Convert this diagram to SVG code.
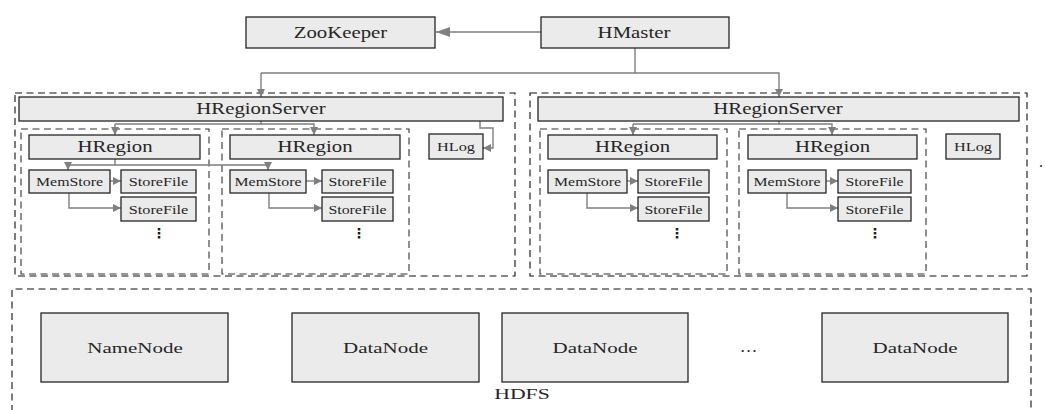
<svg xmlns="http://www.w3.org/2000/svg" width="1045" height="410" viewBox="0 0 1045 410">
<style>
.box{fill:#ebebeb;stroke:#262626;stroke-width:1.3}
.outer{fill:none;stroke:#111;stroke-width:1.1;stroke-dasharray:7 4.5}
.inner{fill:none;stroke:#333;stroke-width:1.1;stroke-dasharray:7 4.5}
.conn{fill:none;stroke:#7f7f7f;stroke-width:1.4}
.big{marker-end:url(#ahBig)}
.sm{marker-end:url(#ahSm)}
.lbl{font-weight:normal;fill:#262626;text-anchor:middle}
.t16{font-size:16px}
.t13{font-size:13px}
.t15{font-size:15px}
.dots{font-family:'DejaVu Sans',sans-serif;font-size:14px;font-weight:bold;fill:#1a1a1a;text-anchor:middle}
</style>
<defs>
<marker id="ahBig" markerUnits="userSpaceOnUse" markerWidth="14" markerHeight="10" refX="14" refY="5" orient="auto"><path d="M0,0 L14,5 L0,10 z" fill="#7f7f7f"/></marker>
<marker id="ahSm" markerUnits="userSpaceOnUse" markerWidth="8" markerHeight="8" refX="8" refY="4" orient="auto"><path d="M0,0 L8,4 L0,8 z" fill="#7f7f7f"/></marker>
</defs>
<rect width="1045" height="410" fill="#fff"/>

<g id="server-left-container"><rect class="outer" x="15" y="93" width="500" height="183"/></g>
<g id="server-right-container"><rect class="outer" x="530" y="93" width="497" height="183"/></g>
<g id="region-containers">
<rect class="inner" x="21" y="129" width="188" height="145"/>
<rect class="inner" x="222" y="129" width="187" height="145"/>
<rect class="inner" x="540" y="129" width="187" height="145"/>
<rect class="inner" x="739" y="129" width="187" height="145"/>
</g>
<g id="hdfs-container"><path class="outer" d="M12,412 V289 H1031 V412"/></g>

<g id="connectors">
<path class="conn big" d="M541,32 H436"/>
<path class="conn" d="M635,48 V73 H261"/>
<path class="conn sm" d="M261,73 V97"/>
<path class="conn sm" d="M635,73 H779 V97"/>
<path class="conn" d="M261,121 V124 H115"/>
<path class="conn sm" d="M115,124 V135"/>
<path class="conn sm" d="M261,124 H314 V135"/>
<path class="conn sm" d="M480,121 V128 H493 V148 H483"/>
<path class="conn" d="M115,159 V165 H68"/>
<path class="conn sm" d="M68,165 V170"/>
<path class="conn sm" d="M115,165 H268 V170"/>
<path class="conn sm" d="M110,181 H121"/>
<path class="conn sm" d="M69,193 V208 H121"/>
<path class="conn sm" d="M306,181 H322"/>
<path class="conn sm" d="M269,193 V208 H322"/>
<path class="conn" d="M779,121 V124 H633"/>
<path class="conn sm" d="M633,124 V135"/>
<path class="conn sm" d="M779,124 H832 V135"/>
<path class="conn sm" d="M627,181 H638"/>
<path class="conn sm" d="M587,193 V208 H638"/>
<path class="conn sm" d="M826,181 H838"/>
<path class="conn sm" d="M787,193 V208 H838"/>
</g>

<g font-family="Liberation Serif, Times New Roman, serif">
<g id="zookeeper"><rect class="box" x="246" y="17" width="189" height="31"/><text class="lbl t16" transform="translate(340.5,38) scale(1.3,1)">ZooKeeper</text></g>
<g id="hmaster"><rect class="box" x="541" y="17" width="188" height="31"/><text class="lbl t16" transform="translate(634,38) scale(1.3,1)">HMaster</text></g>

<g id="hregionserver-left"><rect class="box" x="19" y="97" width="484" height="24"/><text class="lbl t16" transform="translate(261,114) scale(1.3,1)">HRegionServer</text></g>
<g id="hregionserver-right"><rect class="box" x="538" y="97" width="481" height="24"/><text class="lbl t16" transform="translate(778,114) scale(1.3,1)">HRegionServer</text></g>

<g id="hregion-1"><rect class="box" x="29" y="135" width="171" height="24"/><text class="lbl t16" transform="translate(115,152) scale(1.3,1)">HRegion</text></g>
<g id="hregion-2"><rect class="box" x="230" y="135" width="170" height="24"/><text class="lbl t16" transform="translate(315,152) scale(1.3,1)">HRegion</text></g>
<g id="hregion-3"><rect class="box" x="548" y="135" width="169" height="24"/><text class="lbl t16" transform="translate(632.5,152) scale(1.3,1)">HRegion</text></g>
<g id="hregion-4"><rect class="box" x="748" y="135" width="169" height="24"/><text class="lbl t16" transform="translate(832.5,152) scale(1.3,1)">HRegion</text></g>

<g id="hlog-left"><rect class="box" x="429" y="134" width="54" height="25"/><text class="lbl t13" transform="translate(456,151) scale(1.25,1)">HLog</text></g>
<g id="hlog-right"><rect class="box" x="946" y="134" width="54" height="25"/><text class="lbl t13" transform="translate(973,151) scale(1.25,1)">HLog</text></g>

<g id="memstore-1"><rect class="box" x="29" y="170" width="81" height="23"/><text class="lbl t13" transform="translate(69.5,186) scale(1.22,1)">MemStore</text></g>
<g id="storefile-1a"><rect class="box" x="121" y="170" width="75" height="23"/><text class="lbl t13" transform="translate(158.5,186) scale(1.25,1)">StoreFile</text></g>
<g id="storefile-1b"><rect class="box" x="121" y="197" width="75" height="24"/><text class="lbl t13" transform="translate(158.5,214) scale(1.25,1)">StoreFile</text></g>
<g id="more-1"><text class="dots" x="159" y="238">⋮</text></g>

<g id="memstore-2"><rect class="box" x="230" y="170" width="76" height="23"/><text class="lbl t13" transform="translate(268,186) scale(1.22,1)">MemStore</text></g>
<g id="storefile-2a"><rect class="box" x="322" y="170" width="71" height="23"/><text class="lbl t13" transform="translate(357.5,186) scale(1.22,1)">StoreFile</text></g>
<g id="storefile-2b"><rect class="box" x="322" y="197" width="71" height="24"/><text class="lbl t13" transform="translate(357.5,214) scale(1.22,1)">StoreFile</text></g>
<g id="more-2"><text class="dots" x="359" y="238">⋮</text></g>

<g id="memstore-3"><rect class="box" x="548" y="170" width="79" height="23"/><text class="lbl t13" transform="translate(587.5,186) scale(1.22,1)">MemStore</text></g>
<g id="storefile-3a"><rect class="box" x="638" y="170" width="71" height="23"/><text class="lbl t13" transform="translate(673.5,186) scale(1.22,1)">StoreFile</text></g>
<g id="storefile-3b"><rect class="box" x="638" y="197" width="71" height="24"/><text class="lbl t13" transform="translate(673.5,214) scale(1.22,1)">StoreFile</text></g>
<g id="more-3"><text class="dots" x="677" y="238">⋮</text></g>

<g id="memstore-4"><rect class="box" x="748" y="170" width="78" height="23"/><text class="lbl t13" transform="translate(787,186) scale(1.22,1)">MemStore</text></g>
<g id="storefile-4a"><rect class="box" x="838" y="170" width="73" height="23"/><text class="lbl t13" transform="translate(874.5,186) scale(1.22,1)">StoreFile</text></g>
<g id="storefile-4b"><rect class="box" x="838" y="197" width="73" height="24"/><text class="lbl t13" transform="translate(874.5,214) scale(1.22,1)">StoreFile</text></g>
<g id="more-4"><text class="dots" x="875" y="238">⋮</text></g>

<g id="mark"><text class="lbl t16" x="1041" y="167">.</text></g>

<g id="namenode"><rect class="box" x="41" y="313" width="187" height="69"/><text class="lbl t15" transform="translate(135,353) scale(1.4,1)">NameNode</text></g>
<g id="datanode-1"><rect class="box" x="292" y="313" width="187" height="69"/><text class="lbl t15" transform="translate(385.5,353) scale(1.4,1)">DataNode</text></g>
<g id="datanode-2"><rect class="box" x="502" y="313" width="186" height="69"/><text class="lbl t15" transform="translate(595,353) scale(1.4,1)">DataNode</text></g>
<g id="more-datanodes"><text class="lbl t16" transform="translate(748.5,352) scale(1.1,1)">…</text></g>
<g id="datanode-3"><rect class="box" x="822" y="313" width="186" height="69"/><text class="lbl t15" transform="translate(915,353) scale(1.4,1)">DataNode</text></g>
<g id="hdfs-label"><text class="lbl t15" transform="translate(522,399) scale(1.45,1)">HDFS</text></g>
</g>
</svg>
